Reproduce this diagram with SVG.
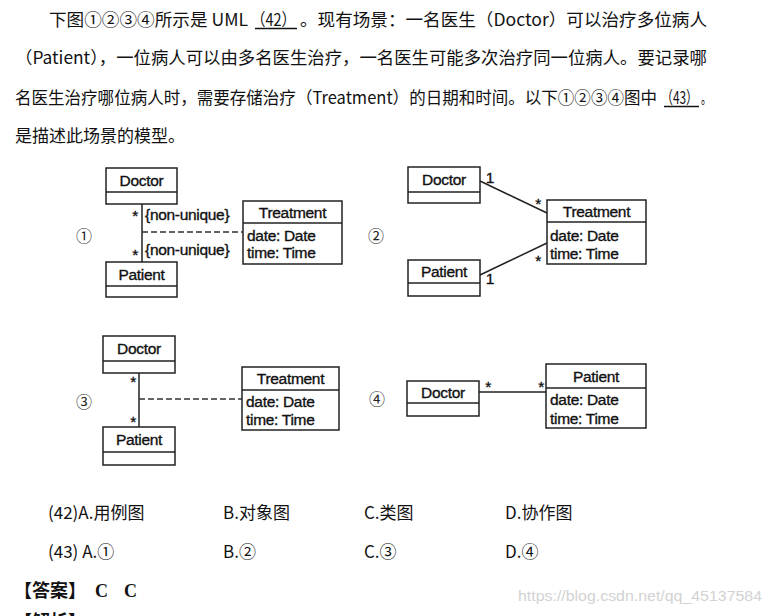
<svg xmlns="http://www.w3.org/2000/svg" width="771" height="616" viewBox="0 0 771 616">
<style>
.bg{fill:#fff}
.q{font-family:"Noto Sans CJK SC","Liberation Sans",sans-serif;font-size:17px;fill:#111}
.box{fill:#fff;stroke:#222;stroke-width:1.5}
.div{stroke:#222;stroke-width:1.5}
.u{font-family:"Liberation Sans",Arial,sans-serif;font-size:15.5px;fill:#111;stroke:#111;stroke-width:0.35;letter-spacing:-0.3px}
.c{text-anchor:middle}
.ln{stroke:#222;stroke-width:1.5;fill:none}
.dash{stroke:#333;stroke-width:1.5;stroke-dasharray:6 3;fill:none}
.num{font-family:"Noto Sans CJK SC",sans-serif;font-size:16px;fill:#222;text-anchor:middle}
.ul{stroke:#111;stroke-width:1.3}
.ans{font-family:"Liberation Serif","Noto Sans CJK SC",serif;font-size:18px;font-weight:bold;fill:#111}
.wm{font-family:"Liberation Sans",Arial,sans-serif;font-size:15px;fill:#d2d2d2}
</style>
<rect class="bg" x="0" y="0" width="771" height="616"/>

<g id="question">
<text class="q" y="25.5"><tspan x="49" textLength="199" lengthAdjust="spacingAndGlyphs">下图①②③④所示是 UML</tspan><tspan x="251" textLength="45" lengthAdjust="spacingAndGlyphs">（42）</tspan><tspan x="300" textLength="407" lengthAdjust="spacingAndGlyphs">。现有场景：一名医生（Doctor）可以治疗多位病人</tspan></text>
<line class="ul" x1="255" y1="28.5" x2="297" y2="28.5"/>
<text class="q" x="15" y="63.5" textLength="692" lengthAdjust="spacingAndGlyphs">（Patient），一位病人可以由多名医生治疗，一名医生可能多次治疗同一位病人。要记录哪</text>
<text class="q" y="103.5"><tspan x="15" textLength="642" lengthAdjust="spacingAndGlyphs">名医生治疗哪位病人时，需要存储治疗（Treatment）的日期和时间。以下①②③④图中</tspan><tspan x="661" textLength="37" lengthAdjust="spacingAndGlyphs">（43）</tspan><tspan x="701" textLength="10" lengthAdjust="spacingAndGlyphs">。</tspan></text>
<line class="ul" x1="664" y1="106.5" x2="699" y2="106.5"/>
<text class="q" x="15" y="141.5" textLength="170" lengthAdjust="spacingAndGlyphs">是描述此场景的模型。</text>
</g>

<g id="labels">
<text class="num" x="84" y="242">①</text>
<text class="num" x="376" y="242">②</text>
<text class="num" x="84" y="408">③</text>
<text class="num" x="377" y="405">④</text>
</g>

<g id="connectors">
<line class="ln" x1="142" y1="204" x2="142" y2="262"/>
<line class="dash" x1="142" y1="232" x2="243" y2="232"/>
<line class="ln" x1="480" y1="181" x2="547" y2="213"/>
<line class="ln" x1="480" y1="275" x2="547" y2="243"/>
<line class="ln" x1="139" y1="373" x2="139" y2="427"/>
<line class="dash" x1="139" y1="399" x2="242" y2="399"/>
<line class="ln" x1="479" y1="392" x2="546" y2="392"/>
</g>

<g id="multiplicities">
<text class="u" x="135" y="221" text-anchor="middle">*</text>
<text class="u" x="145" y="220">{non-unique}</text>
<text class="u" x="135" y="260" text-anchor="middle">*</text>
<text class="u" x="145" y="255">{non-unique}</text>
<text class="u" x="490" y="183" text-anchor="middle">1</text>
<text class="u" x="538" y="209" text-anchor="middle">*</text>
<text class="u" x="538" y="266" text-anchor="middle">*</text>
<text class="u" x="490" y="284" text-anchor="middle">1</text>
<text class="u" x="133" y="387" text-anchor="middle">*</text>
<text class="u" x="133" y="427" text-anchor="middle">*</text>
<text class="u" x="488" y="392" text-anchor="middle">*</text>
<text class="u" x="541" y="392" text-anchor="middle">*</text>
</g>

<g id="d1-doctor">
<rect class="box" x="106" y="168" width="71" height="36"/>
<line class="div" x1="106" y1="192" x2="177" y2="192"/>
<text class="u c" x="141.5" y="186">Doctor</text>
</g>
<g id="d1-patient">
<rect class="box" x="106" y="262" width="71" height="35"/>
<line class="div" x1="106" y1="286" x2="177" y2="286"/>
<text class="u c" x="141.5" y="280">Patient</text>
</g>
<g id="d1-treatment">
<rect class="box" x="243" y="201" width="99" height="63"/>
<line class="div" x1="243" y1="223" x2="342" y2="223"/>
<text class="u c" x="292.5" y="218">Treatment</text>
<text class="u" x="247" y="241">date: Date</text>
<text class="u" x="247" y="258">time: Time</text>
</g>

<g id="d2-doctor">
<rect class="box" x="408" y="167" width="72" height="36"/>
<line class="div" x1="408" y1="192" x2="480" y2="192"/>
<text class="u c" x="444" y="185">Doctor</text>
</g>
<g id="d2-patient">
<rect class="box" x="408" y="260" width="72" height="36"/>
<line class="div" x1="408" y1="283" x2="480" y2="283"/>
<text class="u c" x="444" y="277">Patient</text>
</g>
<g id="d2-treatment">
<rect class="box" x="547" y="200" width="99" height="64"/>
<line class="div" x1="547" y1="222" x2="646" y2="222"/>
<text class="u c" x="596.5" y="217">Treatment</text>
<text class="u" x="550" y="241">date: Date</text>
<text class="u" x="550" y="259">time: Time</text>
</g>

<g id="d3-doctor">
<rect class="box" x="103" y="336" width="72" height="37"/>
<line class="div" x1="103" y1="361" x2="175" y2="361"/>
<text class="u c" x="139" y="354">Doctor</text>
</g>
<g id="d3-patient">
<rect class="box" x="103" y="427" width="72" height="38"/>
<line class="div" x1="103" y1="452" x2="175" y2="452"/>
<text class="u c" x="139" y="445">Patient</text>
</g>
<g id="d3-treatment">
<rect class="box" x="242" y="367" width="97" height="63"/>
<line class="div" x1="242" y1="390" x2="339" y2="390"/>
<text class="u c" x="290.5" y="384">Treatment</text>
<text class="u" x="246" y="407">date: Date</text>
<text class="u" x="246" y="425">time: Time</text>
</g>

<g id="d4-doctor">
<rect class="box" x="407" y="381" width="72" height="35"/>
<line class="div" x1="407" y1="403" x2="479" y2="403"/>
<text class="u c" x="443" y="398">Doctor</text>
</g>
<g id="d4-patient">
<rect class="box" x="546" y="364" width="100" height="64"/>
<line class="div" x1="546" y1="388" x2="646" y2="388"/>
<text class="u c" x="596" y="382">Patient</text>
<text class="u" x="550" y="405">date: Date</text>
<text class="u" x="550" y="424">time: Time</text>
</g>

<g id="options">
<text class="q" x="48" y="519">(42)A.用例图</text>
<text class="q" x="223" y="519">B.对象图</text>
<text class="q" x="364" y="519">C.类图</text>
<text class="q" x="505" y="519">D.协作图</text>
<text class="q" x="48" y="558">(43) A.①</text>
<text class="q" x="223" y="558">B.②</text>
<text class="q" x="364" y="558">C.③</text>
<text class="q" x="505" y="558">D.④</text>
</g>

<g id="answer">
<text class="ans" x="14" y="597">【答案】</text>
<text class="ans" x="95" y="597">C</text>
<text class="ans" x="124" y="597">C</text>
<text class="wm" x="518" y="601" textLength="244" lengthAdjust="spacingAndGlyphs">https://blog.csdn.net/qq_45137584</text>
<text class="ans" x="14" y="628">【解析】</text>
</g>
</svg>
